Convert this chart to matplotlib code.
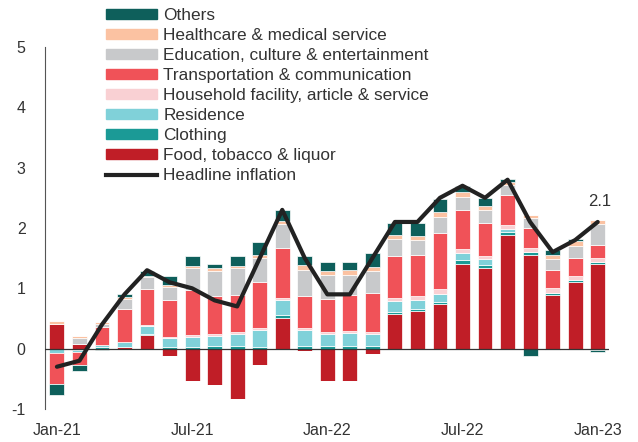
import numpy as np
import matplotlib.pyplot as plt
from matplotlib.patches import Patch
from matplotlib.lines import Line2D

plt.rcParams['font.family'] = ['Liberation Sans', 'DejaVu Sans']
plt.rcParams['axes.unicode_minus'] = False

months = ['Jan-21', 'Feb-21', 'Mar-21', 'Apr-21', 'May-21', 'Jun-21', 'Jul-21', 'Aug-21',
          'Sep-21', 'Oct-21', 'Nov-21', 'Dec-21', 'Jan-22', 'Feb-22', 'Mar-22', 'Apr-22',
          'May-22', 'Jun-22', 'Jul-22', 'Aug-22', 'Sep-22', 'Oct-22', 'Nov-22', 'Dec-22', 'Jan-23']

# contributions, percentage points
food = [0.41, 0.08, 0.00, 0.03, 0.23, -0.12, -0.54, -0.60, -0.84, -0.27, 0.51, -0.04, -0.54,
        -0.54, -0.09, 0.57, 0.62, 0.74, 1.40, 1.34, 1.88, 1.55, 0.89, 1.10, 1.40]
clothing = [0.00, -0.02, 0.03, 0.00, 0.02, 0.02, 0.03, 0.04, 0.04, 0.03, 0.04, 0.04, 0.04,
            0.04, 0.04, 0.03, 0.04, 0.04, 0.07, 0.05, 0.06, 0.06, 0.04, 0.04, 0.03]
residence = [-0.08, -0.03, 0.03, 0.08, 0.12, 0.16, 0.17, 0.17, 0.21, 0.28, 0.26, 0.27, 0.21,
             0.22, 0.21, 0.19, 0.15, 0.13, 0.11, 0.09, 0.04, 0.00, -0.03, -0.03, -0.02]
household = [0.00, 0.00, 0.00, 0.00, 0.02, 0.02, 0.02, 0.03, 0.02, 0.03, 0.03, 0.03, 0.03,
             0.03, 0.03, 0.05, 0.07, 0.08, 0.07, 0.06, 0.07, 0.05, 0.08, 0.07, 0.07]
transport = [-0.50, -0.22, 0.30, 0.54, 0.60, 0.61, 0.75, 0.64, 0.62, 0.77, 0.83, 0.54, 0.55,
             0.60, 0.65, 0.70, 0.67, 0.92, 0.65, 0.54, 0.49, 0.34, 0.30, 0.30, 0.21]
education = [0.00, 0.09, 0.05, 0.18, 0.20, 0.22, 0.36, 0.40, 0.44, 0.39, 0.40, 0.42, 0.39,
             0.33, 0.35, 0.28, 0.25, 0.28, 0.21, 0.22, 0.17, 0.17, 0.18, 0.19, 0.35]
healthcare = [0.04, 0.04, 0.03, 0.02, 0.02, 0.03, 0.04, 0.05, 0.04, 0.05, 0.05, 0.08, 0.07,
              0.08, 0.07, 0.07, 0.07, 0.07, 0.08, 0.07, 0.06, 0.04, 0.06, 0.08, 0.08]
others = [-0.18, -0.10, -0.03, 0.05, 0.08, 0.15, 0.17, 0.07, 0.17, 0.21, 0.17, 0.16, 0.15,
          0.13, 0.23, 0.19, 0.21, 0.22, 0.11, 0.12, 0.04, -0.12, 0.08, 0.04, -0.04]
headline = [-0.3, -0.2, 0.4, 0.9, 1.3, 1.1, 1.0, 0.8, 0.7, 1.5, 2.3, 1.5, 0.9,
            0.9, 1.5, 2.1, 2.1, 2.5, 2.7, 2.5, 2.8, 2.1, 1.6, 1.8, 2.1]

series = [
    ('Food, tobacco & liquor', food, '#c01e27'),
    ('Clothing', clothing, '#1b9a96'),
    ('Residence', residence, '#80d1d9'),
    ('Household facility, article & service', household, '#f9d0d3'),
    ('Transportation & communication', transport, '#f05258'),
    ('Education, culture & entertainment', education, '#c8c9cb'),
    ('Healthcare & medical service', healthcare, '#fbc2a2'),
    ('Others', others, '#0e5f5b'),
]

fig = plt.figure(figsize=(6.38, 4.42), dpi=100)
ax = fig.add_axes([0.0705, 0.0747, 0.884, 0.819])

x = np.arange(len(months))
pos_base = np.zeros(len(months))
neg_base = np.zeros(len(months))
for name, vals, col in series:
    v = np.array(vals)
    pos = np.where(v > 0, v, 0)
    neg = np.where(v < 0, v, 0)
    ax.bar(x, pos, 0.66, bottom=pos_base, color=col, edgecolor='white', linewidth=0.5, zorder=2)
    ax.bar(x, neg, 0.66, bottom=neg_base, color=col, edgecolor='white', linewidth=0.5, zorder=2)
    pos_base += pos
    neg_base += neg

ax.axhline(0, color='#333333', linewidth=0.9, zorder=3)
ax.plot(x, headline, color='#222222', linewidth=3, zorder=4, solid_capstyle='round')
ax.text(x[-1] + 0.1, headline[-1] + 0.34, f'{headline[-1]:.1f}', ha='center', va='center',
        fontsize=12, color='#333333')

ax.set_xlim(-0.53, 24.5)
ax.set_ylim(-1, 5)
ax.set_yticks(range(-1, 6))
ax.set_xticks(x[::6])
ax.set_xticklabels(months[::6])
ax.tick_params(length=0, labelsize=11.5, colors='#333333')
ax.tick_params(axis='y', pad=14)
ax.tick_params(axis='x', pad=10)
for s in ['top', 'right', 'bottom']:
    ax.spines[s].set_visible(False)
ax.spines['left'].set_color('#555555')

handles = [Patch(color=col, label=name) for name, vals, col in series[::-1]]
handles.append(Line2D([0], [0], color='#222222', linewidth=3, label='Headline inflation'))
fig.legend(handles=handles, loc='upper left', bbox_to_anchor=(0.155, 0.997), frameon=False,
           fontsize=12.4, handlelength=3.0, handleheight=0.47, labelspacing=0.29,
           handletextpad=0.35, borderaxespad=0, labelcolor='#333333')

fig.savefig('out.png', dpi=100)
